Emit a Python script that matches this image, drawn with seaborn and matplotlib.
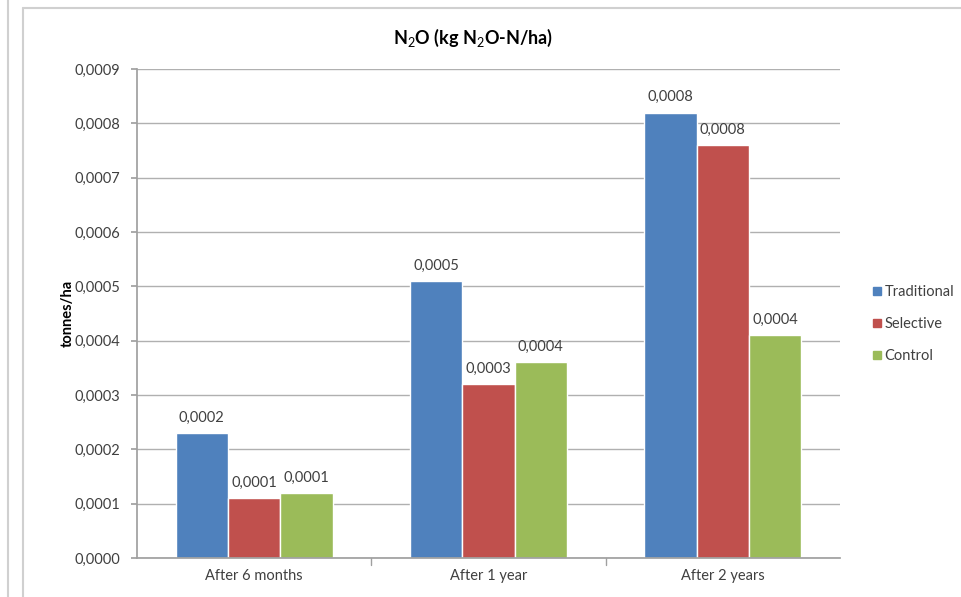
import numpy as np
import pandas as pd
import matplotlib
matplotlib.use("Agg")
import matplotlib.pyplot as plt
import seaborn as sns
from matplotlib.lines import Line2D

periods = ["After 6 months", "After 1 year", "After 2 years"]
treatments = ["Traditional", "Selective", "Control"]
traditional = [0.00023, 0.00051, 0.00082]
selective = [0.00011, 0.00032, 0.00076]
control = [0.00012, 0.00036, 0.00041]
yticks = [0.0000, 0.0001, 0.0002, 0.0003, 0.0004, 0.0005, 0.0006, 0.0007, 0.0008, 0.0009]

df = pd.DataFrame({
    "Period": periods * 3,
    "Treatment": [t for t in treatments for _ in periods],
    "Value": traditional + selective + control,
})

colors = ["#4F81BD", "#C0504D", "#9BBB59"]
text_col = "#404040"

sns.set_theme(style="white")
plt.rcParams["font.family"] = ["Lato", "DejaVu Sans"]
plt.rcParams["mathtext.fontset"] = "custom"
plt.rcParams["mathtext.rm"] = "Lato"
plt.rcParams["mathtext.bf"] = "Lato:bold"

fig = plt.figure(figsize=(9.61, 5.97), dpi=100)
ax = fig.add_axes([0.1425, 0.0653, 0.7315, 0.8190])

sns.barplot(data=df, x="Period", y="Value", hue="Treatment", order=periods,
            hue_order=treatments, palette=colors, width=0.67, saturation=1,
            errorbar=None, ax=ax, legend=False)

ax.set_ylim(0, 0.0009)
ax.set_xlim(-0.5, 2.5)
ax.set_yticks(yticks)
ax.set_yticklabels([f"{v:.4f}".replace(".", ",") for v in yticks],
                   fontsize=10.5, color=text_col)
ax.tick_params(axis="y", length=4, color="#a0a0a0", pad=8, left=True)
ax.set_xticks(range(3))
ax.set_xticklabels(periods, fontsize=10.5, color=text_col)
ax.tick_params(axis="x", length=0, pad=8)
for b in [0.5, 1.5]:
    ax.plot([b, b], [0, -0.000012], color="#a0a0a0", lw=1, clip_on=False)
ax.grid(axis="y", color="#b0b0b0", lw=1)
ax.set_axisbelow(True)
for s in ["top", "right"]:
    ax.spines[s].set_visible(False)
ax.spines["left"].set_color("#a0a0a0")
ax.spines["bottom"].set_color("#a0a0a0")
ax.set_xlabel("")
ax.set_ylabel("tonnes/ha", fontsize=10.5, fontweight="bold", color="black", labelpad=0)

for cont in ax.containers:
    labels = [f"{v:.4f}".replace(".", ",") for v in cont.datavalues]
    ax.bar_label(cont, labels=labels, padding=6, fontsize=10.5, color=text_col)

fig.suptitle(r"N$_2$O (kg N$_2$O-N/ha)", x=0.4925, y=0.955, fontsize=13,
             fontweight="bold", color="black")

handles = [Line2D([], [], marker="s", ls="", markersize=6, color=c) for c in colors]
fig.legend(handles, treatments, loc="center left", bbox_to_anchor=(0.893, 0.457),
           frameon=False, fontsize=10.5, handletextpad=0.1, labelspacing=1.25,
           handlelength=0.8, labelcolor=text_col)

# outer frame lines
fig.add_artist(Line2D([8 / 961, 8 / 961], [0, 1], color="#d0d0d0", lw=1.5,
                      transform=fig.transFigure))
fig.add_artist(Line2D([23 / 961, 23 / 961], [0, 1 - 8 / 597], color="#d0d0d0", lw=1.5,
                      transform=fig.transFigure))
fig.add_artist(Line2D([23 / 961, 1], [1 - 8 / 597, 1 - 8 / 597], color="#d0d0d0", lw=1.5,
                      transform=fig.transFigure))

fig.savefig("out.png", dpi=100)
